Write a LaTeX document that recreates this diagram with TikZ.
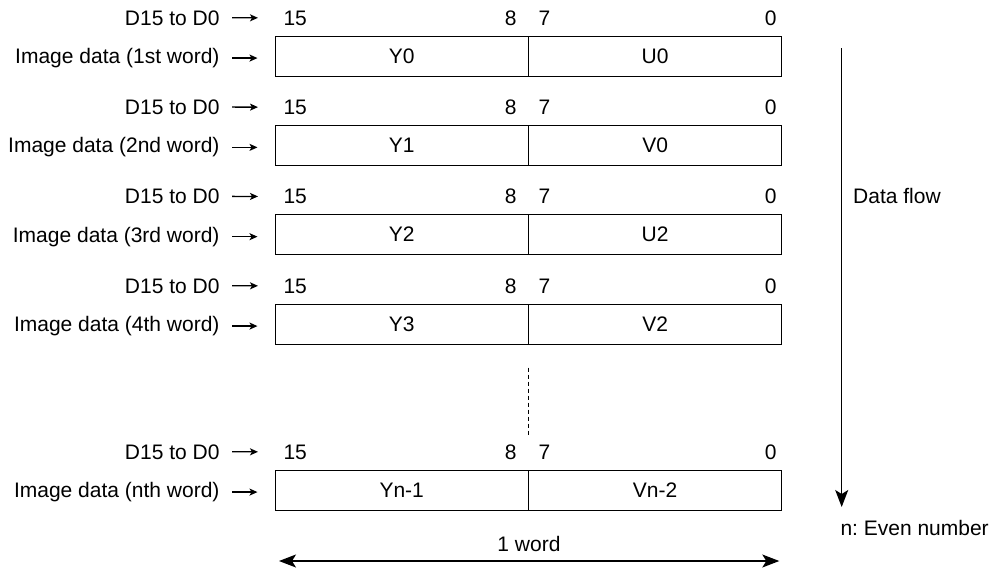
\documentclass[tikz,border=0pt]{standalone}
\usepackage{fontspec}
\setmainfont{Liberation Sans}
\usepackage{tikz}
\usetikzlibrary{arrows.meta}
\frenchspacing

\begin{document}
\begin{tikzpicture}[x=1pt, y=-1pt, line width=1pt,
   txt/.style={inner sep=0pt, font=\fontsize{21}{25}\selectfont},
   half/.style={draw, inner sep=0pt, minimum width=253.4pt, minimum height=40pt, font=\fontsize{21}{25}\selectfont},
   small/.style={-{Stealth[length=8pt, width=7pt, inset=2pt]}, line width=1.3pt},
   big/.style={-{Stealth[length=17pt, width=13pt, inset=4pt]}, line width=1.3pt}]

   \useasboundingbox (0,0) rectangle (1002,568);

   \foreach \t/\w/\l/\r [count=\i] in {36/1st/Y0/U0, 125.3/2nd/Y1/V0, 214.6/3rd/Y2/U2, 304/4th/Y3/V2, 470/nth/Yn-1/Vn-2} {
      \node[txt, anchor=base east] (bits\i) at (220,\t-11) {D15 to D0};
      \node[txt, anchor=base west] (msb\i) at (283,\t-11) {15};
      \node[txt, anchor=base east] (b8\i) at (517,\t-11) {8};
      \node[txt, anchor=base west] (b7\i) at (538,\t-11) {7};
      \node[txt, anchor=base east] (lsb\i) at (777,\t-11) {0};
      \node[txt, anchor=base east] (img\i) at (220,\t+27.5) {Image data (\w\ word)};
      \node[half] (left\i) at (401.7,\t+20) {\l};
      \node[half] (right\i) at (655.1,\t+20) {\r};
      \draw[small, shorten <=12pt, shorten >=25pt] (bits\i.east) -- (msb\i.west);
      \draw[small, shorten <=12pt, shorten >=17pt] (img\i.east) -- (img\i.east -| left\i.west);
   }

   \draw[dash pattern=on 4pt off 3pt] ([yshift=-23pt]left4.south east) -- ([yshift=33pt]left5.north east);

   \coordinate (flowtop) at (841.7,48);
   \coordinate (flowend) at (841.7,507);
   \draw[big] (flowtop) -- (flowend);
   \node[txt, anchor=base west] (flow) at (852.7,203) {Data flow};
   \node[txt, anchor=base west] (even) at (840,535) {n: Even number};

   \coordinate (wordl) at (279,561);
   \coordinate (wordr) at (779.3,561);
   \draw[big, {Stealth[length=17pt, width=13pt, inset=4pt]}-{Stealth[length=17pt, width=13pt, inset=4pt]}] (wordl) -- (wordr);
   \node[txt, anchor=base] (word) at (529,551) {1 word};

\end{tikzpicture}
\end{document}
